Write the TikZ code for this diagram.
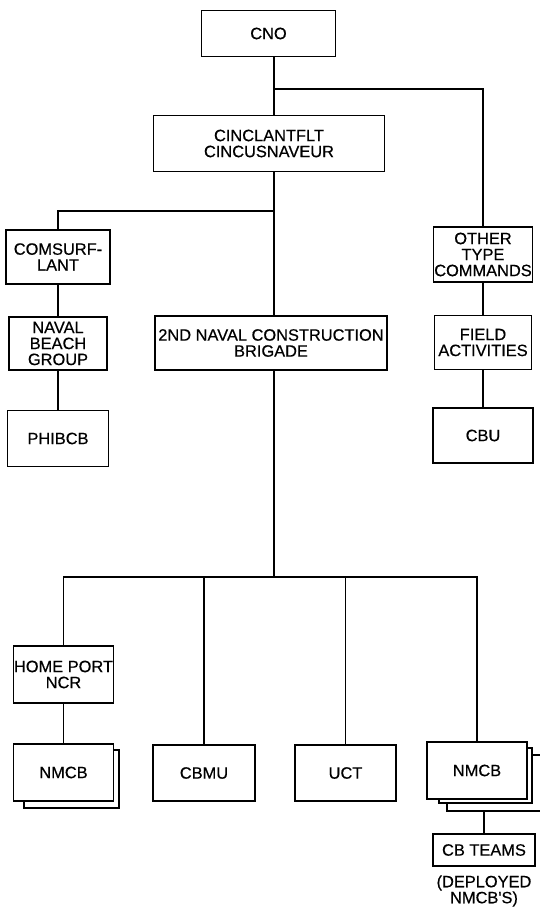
\documentclass[tikz,border=0pt]{standalone}
\usepackage{fontspec}
\setmainfont{Liberation Sans}[FakeBold=0.5]
\usetikzlibrary{positioning}

\tikzset{
  unit/.style={draw,fill=white,line width=1.2pt,align=center,inner sep=0.5pt,
    font=\fontsize{16.4}{16}\selectfont},
  copybox/.style={draw,fill=white,line width=1.2pt,inner sep=0pt},
  link/.style={line width=1.2pt}
}

\begin{document}
\begin{tikzpicture}[x=1pt,y=-1pt]
    \useasboundingbox (0,0) rectangle (540,909);

    \node[unit,minimum width=134pt,minimum height=46pt] (cno) at (268.5,33.5) {CNO};
    \node[unit,minimum width=231pt,minimum height=56pt] (cinc) at (269,143.5) {CINCLANTFLT\\CINCUSNAVEUR};

    \node[unit,minimum width=104pt,minimum height=54pt] (comsurf) at (58,257) {COMSURF-\\LANT};
    \node[unit,minimum width=98pt,minimum height=53pt] (beach) at (58,343.5) {NAVAL\\BEACH\\GROUP};
    \node[unit,minimum width=101pt,minimum height=56pt] (phibcb) at (58,438.5) {PHIBCB};

    \node[unit,minimum width=232pt,minimum height=54pt] (brigade) at (271,343) {2ND NAVAL CONSTRUCTION\\BRIGADE};

    \node[unit,minimum width=97pt,minimum height=55pt] (other) at (483,254.5) {OTHER\\TYPE\\COMMANDS};
    \node[unit,minimum width=97pt,minimum height=54pt] (field) at (483,342.5) {FIELD\\ACTIVITIES};
    \node[unit,minimum width=100pt,minimum height=55pt] (cbu) at (483,435.5) {CBU};

    \node[unit,minimum width=99pt,minimum height=57pt] (homeport) at (63.5,674.5) {HOME PORT\\NCR};

    % stacked boxes behind the battalions
    \node[copybox,minimum width=95pt,minimum height=58pt] (nmcbAa) at (71.5,779) {};
    \node[unit,minimum width=100pt,minimum height=57pt] (nmcbA) at (63.5,772.5) {NMCB};
    \node[unit,minimum width=102pt,minimum height=56pt] (cbmu) at (204,773) {CBMU};
    \node[unit,minimum width=101pt,minimum height=56pt] (uct) at (345.5,773) {UCT};
    \node[copybox,minimum width=101pt,minimum height=56pt] (nmcbBb) at (497.5,783) {};
    \node[copybox,minimum width=93pt,minimum height=55pt] (nmcbBa) at (485.5,775.5) {};
    \node[unit,minimum width=100pt,minimum height=57pt] (nmcbB) at (477,770.5) {NMCB};

    \node[unit,minimum width=102pt,minimum height=32pt] (cbteams) at (484,850) {CB TEAMS};
    \node[align=center,inner sep=0pt,font=\fontsize{16.4}{16}\selectfont] (deployed) at (484,891) {(DEPLOYED\\NMCB\textquotesingle S)};

    \coordinate (j1) at (274,89);
    \coordinate (j2) at (274,211);
    \coordinate (j3) at (274,577);

    \draw[link] (cno.south -| j1) -- (cinc.north -| j1);
    \draw[link] (j1) -| (other.north);
    \draw[link] (cinc.south -| j2) -- (brigade.north -| j2);
    \draw[link] (j2) -| (comsurf.north);
    \draw[link] (brigade.south -| j3) -- (j3);
    \draw[link] (homeport.north) |- (j3) -| (nmcbB.north);

    \foreach \from/\to in {comsurf/beach,beach/phibcb,other/field,field/cbu,homeport/nmcbA}
        \draw[link] (\from.south) -- (\to.north);
    \foreach \n in {cbmu,uct}
        \draw[link] (j3 -| \n.north) -- (\n.north);

    \draw[link] (nmcbBb.south -| cbteams.north) -- (cbteams.north);
\end{tikzpicture}
\end{document}
